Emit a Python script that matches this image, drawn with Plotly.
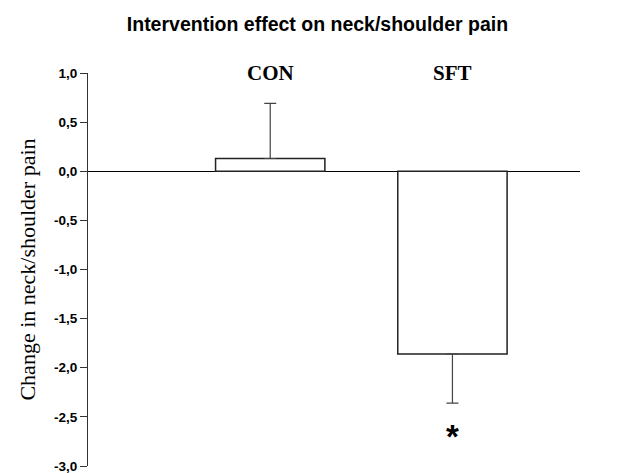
import plotly.graph_objects as go

categories = ["CON", "SFT"]
values = [0.13, -1.86]
err_plus = [0.56, 0.0]
err_minus = [0.0, 0.50]
yticks = [1.0, 0.5, 0.0, -0.5, -1.0, -1.5, -2.0, -2.5, -3.0]
ytick_labels = ["1,0", "0,5", "0,0", "-0,5", "-1,0", "-1,5", "-2,0", "-2,5", "-3,0"]

xpos = list(range(len(categories)))

fig = go.Figure()
fig.add_trace(go.Bar(
    x=xpos, y=values, width=0.6,
    marker=dict(color="white", line=dict(color="#222222", width=1.5)),
    error_y=dict(type="data", symmetric=False, array=err_plus, arrayminus=err_minus,
                 color="#444444", thickness=1.2, width=6),
    showlegend=False,
))

for xi, name in zip(xpos, categories):
    fig.add_annotation(x=xi, y=1.0, xref="x", yref="y", text=name, showarrow=False,
                       yanchor="middle",
                       font=dict(family="Liberation Serif", size=21, color="black", weight="bold"))

# significance marker below SFT
fig.add_annotation(x=1, y=-2.49, xref="x", yref="y", text="*", showarrow=False,
                   yanchor="top",
                   font=dict(family="Liberation Sans", size=33, color="black", weight="bold"))

fig.update_layout(
    width=635, height=473,
    margin=dict(l=88, r=55, t=73, b=7, autoexpand=False),
    plot_bgcolor="white", paper_bgcolor="white",
    title=dict(text="Intervention effect on neck/shoulder pain", x=0.5, xref="container",
               y=1 - 24 / 473, yref="container", yanchor="middle",
               font=dict(family="Liberation Sans", size=19.5, color="black", weight="bold")),
    xaxis=dict(range=[-1.0, 1.7], showticklabels=False, showgrid=False, zeroline=False,
               showline=False, ticks="", automargin=False),
    yaxis=dict(range=[-3.0, 1.0], tickvals=yticks, ticktext=ytick_labels, ticks="outside",
               ticklen=7, tickcolor="#333333", showline=True, linecolor="#333333", linewidth=1,
               showgrid=False, zeroline=True, zerolinecolor="black", zerolinewidth=1.2,
               ticklabeloverflow="allow", automargin=False,
               tickfont=dict(family="Liberation Sans", size=13.5, color="black", weight="bold"),
               title=dict(text="Change in neck/shoulder pain", standoff=12,
                          font=dict(family="Liberation Serif", size=22, color="black"))),
)

fig.write_html("out.html", config={"displayModeBar": False},
               post_script="document.body.style.margin='0';")
